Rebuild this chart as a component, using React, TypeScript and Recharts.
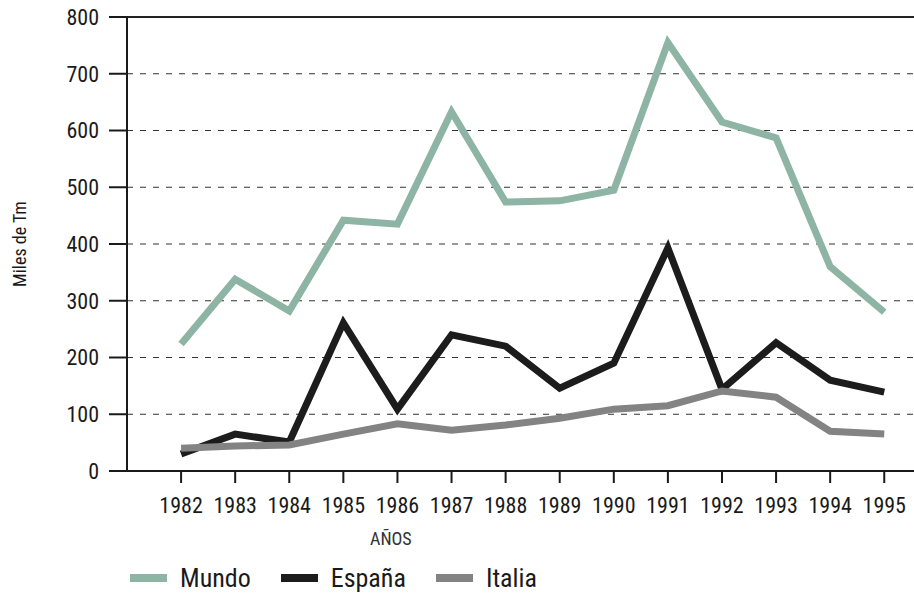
import { LineChart, Line, XAxis, YAxis, CartesianGrid, ReferenceLine, Legend } from 'recharts';

const YEARS = [1982, 1983, 1984, 1985, 1986, 1987, 1988, 1989, 1990, 1991, 1992, 1993, 1994, 1995];
const MUNDO = [224, 338, 282, 442, 435, 633, 474, 476, 495, 755, 615, 587, 360, 280];
const ESPANA = [30, 65, 51, 261, 109, 240, 220, 146, 190, 393, 144, 226, 160, 139];
const ITALIA = [40, 44, 46, 65, 83, 72, 81, 93, 109, 115, 141, 130, 70, 65];
const Y_TICKS = [0, 100, 200, 300, 400, 500, 600, 700, 800];

const SERIES = [
  { key: 'mundo', name: 'Mundo', color: '#8db4a4' },
  { key: 'espana', name: 'España', color: '#1c1c1c' },
  { key: 'italia', name: 'Italia', color: '#838383' },
];

const FONT = '"Liberation Sans Narrow", "Roboto Condensed", "Liberation Sans", Arial, sans-serif';

const data = YEARS.map((y, i) => ({ year: y, mundo: MUNDO[i], espana: ESPANA[i], italia: ITALIA[i] }));

function YLabel(props: any) {
  const vb = props.viewBox || {};
  const cx = 19;
  const cy = (vb.y ?? 17) + (vb.height ?? 454) / 2;
  return (
    <text
      x={cx}
      y={cy}
      transform={`rotate(-90, ${cx}, ${cy})`}
      textAnchor="middle"
      dominantBaseline="central"
      fill="#1a1a1a"
      fontSize={18}
      fontFamily={FONT}
    >
      Miles de Tm
    </text>
  );
}

function LegendBox() {
  return (
    <div style={{ display: 'flex', alignItems: 'center', fontFamily: FONT, fontSize: 26, color: '#1a1a1a', paddingLeft: 130 }}>
      {SERIES.map((s) => (
        <div key={s.key} style={{ display: 'flex', alignItems: 'center', marginRight: 30 }}>
          <div style={{ width: 37, height: 8, background: s.color, marginRight: 13 }} />
          <span>{s.name}</span>
        </div>
      ))}
    </div>
  );
}

export default function App() {
  return (
    <div style={{ position: 'absolute', left: 0, top: 0, background: '#fff' }}>
      <LineChart width={914} height={595} data={data} margin={{ top: 17, right: 0, bottom: 0, left: 0 }}>
        <CartesianGrid vertical={false} stroke="#333" strokeDasharray="6 7" strokeWidth={1.2} />
        <ReferenceLine y={800} stroke="#222" strokeWidth={2} ifOverflow="extendDomain" />
        <XAxis
          dataKey="year"
          type="number"
          domain={[1981, 1995.55]}
          ticks={YEARS}
          allowDataOverflow
          height={94}
          tickSize={12}
          tickMargin={14}
          stroke="#1a1a1a"
          strokeWidth={2}
          tick={{ fill: '#1a1a1a', fontSize: 22, fontFamily: FONT }}
          label={{ value: 'AÑOS', position: 'insideTopLeft', dx: 238, dy: 56, fill: '#333', fontSize: 18, fontFamily: FONT }}
        />
        <YAxis
          domain={[0, 800]}
          ticks={Y_TICKS}
          width={127}
          tickSize={18}
          tickMargin={10}
          stroke="#1a1a1a"
          strokeWidth={2}
          tick={{ fill: '#1a1a1a', fontSize: 22, fontFamily: FONT }}
          label={<YLabel />}
        />
        <Legend verticalAlign="bottom" align="left" content={() => <LegendBox />} wrapperStyle={{ bottom: 2, left: 0 }} />
        {SERIES.map((s) => (
          <Line
            key={s.key}
            dataKey={s.key}
            name={s.name}
            stroke={s.color}
            strokeWidth={7}
            dot={false}
            activeDot={false}
            isAnimationActive={false}
            strokeLinejoin="miter"
          />
        ))}
      </LineChart>
    </div>
  );
}
